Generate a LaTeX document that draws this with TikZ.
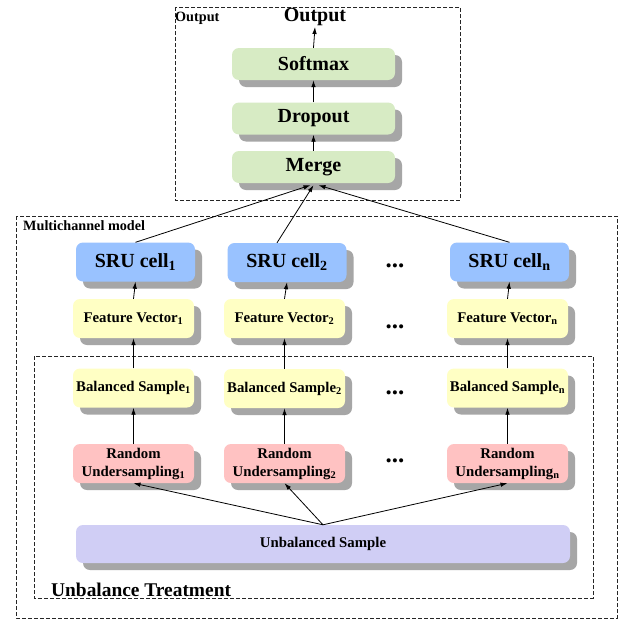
\documentclass[tikz,border=0pt]{standalone}
\usepackage{fontspec}
\setmainfont{Liberation Serif}
\usetikzlibrary{shadows,arrows.meta}
\definecolor{cgreen}{RGB}{215,235,196}
\definecolor{cblue}{RGB}{153,194,255}
\definecolor{cyellow}{RGB}{255,255,196}
\definecolor{cpink}{RGB}{255,194,194}
\definecolor{clav}{RGB}{208,206,245}
\definecolor{cshadow}{RGB}{166,166,166}
\begin{document}
\begin{tikzpicture}[x=1pt,y=-1pt,
  box/.style={rounded corners=7pt, inner sep=0pt, align=center,
    font=\bfseries\fontsize{14.8}{18}\selectfont,
    general shadow={fill=cshadow, shadow xshift=7pt, shadow yshift=-7pt}},
  bigfont/.style={font=\bfseries\fontsize{20}{23}\selectfont},
  green/.style={box, fill=cgreen, minimum width=163pt, minimum height=32pt, bigfont},
  sru/.style={box, fill=cblue, minimum width=119pt, minimum height=39pt, bigfont},
  fv/.style={box, fill=cyellow, minimum width=121pt, minimum height=39pt},
  ru/.style={box, fill=cpink, minimum width=121pt, minimum height=39pt},
  frame/.style={draw=black!85, line width=0.8pt, dash pattern=on 4pt off 2pt},
  arr/.style={-{Latex[length=7pt,width=4.5pt]}, line width=0.8pt},
  lab/.style={anchor=west, inner sep=0pt, font=\bfseries\fontsize{14.2}{17}\selectfont},
  dots/.style={inner sep=0pt, font=\bfseries\fontsize{25}{28}\selectfont}
]
\useasboundingbox (0,0) rectangle (622,624);
\fill[white] (0,0) rectangle (622,624);

% frames
\draw[frame] (175,7) rectangle (460,200);
\draw[frame] (16,216) rectangle (617,618);
\draw[frame] (34,356) rectangle (593,598);

\node[lab] (outlab) at (175,18) {Output};
\node[lab] (mclab) at (23,226) {Multichannel model};
\node[anchor=west, inner sep=0pt, font=\bfseries\fontsize{19.4}{23}\selectfont] (utlab) at (51,590) {Unbalance Treatment};

% output part
\node[inner sep=1pt, bigfont] (out) at (315,17) {Output};
\node[green] (softmax) at (313.5,64) {Softmax};
\node[green] (dropout) at (313.5,118.5) {Dropout};
\node[green] (merge) at (313.5,167) {Merge};

% SRU row
\node[sru] (sru1) at (135.5,262) {SRU cell\textsubscript{1}};
\node[sru] (sru2) at (287,262.5) {SRU cell\textsubscript{2}};
\node[sru] (srun) at (509.5,262) {SRU cell\textsubscript{n}};
% feature vectors
\node[fv] (fv1) at (133.5,318.5) {Feature Vector\textsubscript{1}};
\node[fv] (fv2) at (284.5,318.5) {Feature Vector\textsubscript{2}};
\node[fv] (fvn) at (507.5,318.5) {Feature Vector\textsubscript{n}};
% balanced samples
\node[fv] (bs1) at (133.5,388) {Balanced Sample\textsubscript{1}};
\node[fv] (bs2) at (284.5,388.5) {Balanced Sample\textsubscript{2}};
\node[fv] (bsn) at (507.5,388) {Balanced Sample\textsubscript{n}};
% random undersampling
\node[ru] (ru1) at (133.5,463.5) {Random\\Undersampling\textsubscript{1}};
\node[ru] (ru2) at (284.5,463.5) {Random\\Undersampling\textsubscript{2}};
\node[ru] (run) at (507.5,463.5) {Random\\Undersampling\textsubscript{n}};
% unbalanced
\node[box, fill=clav, minimum width=494pt, minimum height=38pt] (ub) at (323,544) {Unbalanced Sample};

% dots
\node[dots] (d1) at (395,266) {...};
\node[dots] (d2) at (395,327) {...};
\node[dots] (d3) at (395,393) {...};
\node[dots] (d4) at (395,461) {...};

% arrows
\draw[arr] (softmax.north) -- (out.south);
\draw[arr] (dropout.north) -- (softmax.south);
\draw[arr] (merge.north) -- (dropout.south);
\draw[arr] (sru1.north) -- ([xshift=-3pt,yshift=-2pt]merge.south);
\draw[arr] ([xshift=-10pt]sru2.north) -- ([yshift=-2pt]merge.south);
\draw[arr] (srun.north) -- ([xshift=5pt,yshift=-2pt]merge.south);
\foreach \c in {1,2,n}{
  \draw[arr] (fv\c.north) -- (sru\c.south);
  \draw[arr] (bs\c.north) -- (fv\c.south);
  \draw[arr] (ru\c.north) -- (bs\c.south);
  \draw[arr] (ub.north) -- (ru\c.south);
}
\end{tikzpicture}
\end{document}
